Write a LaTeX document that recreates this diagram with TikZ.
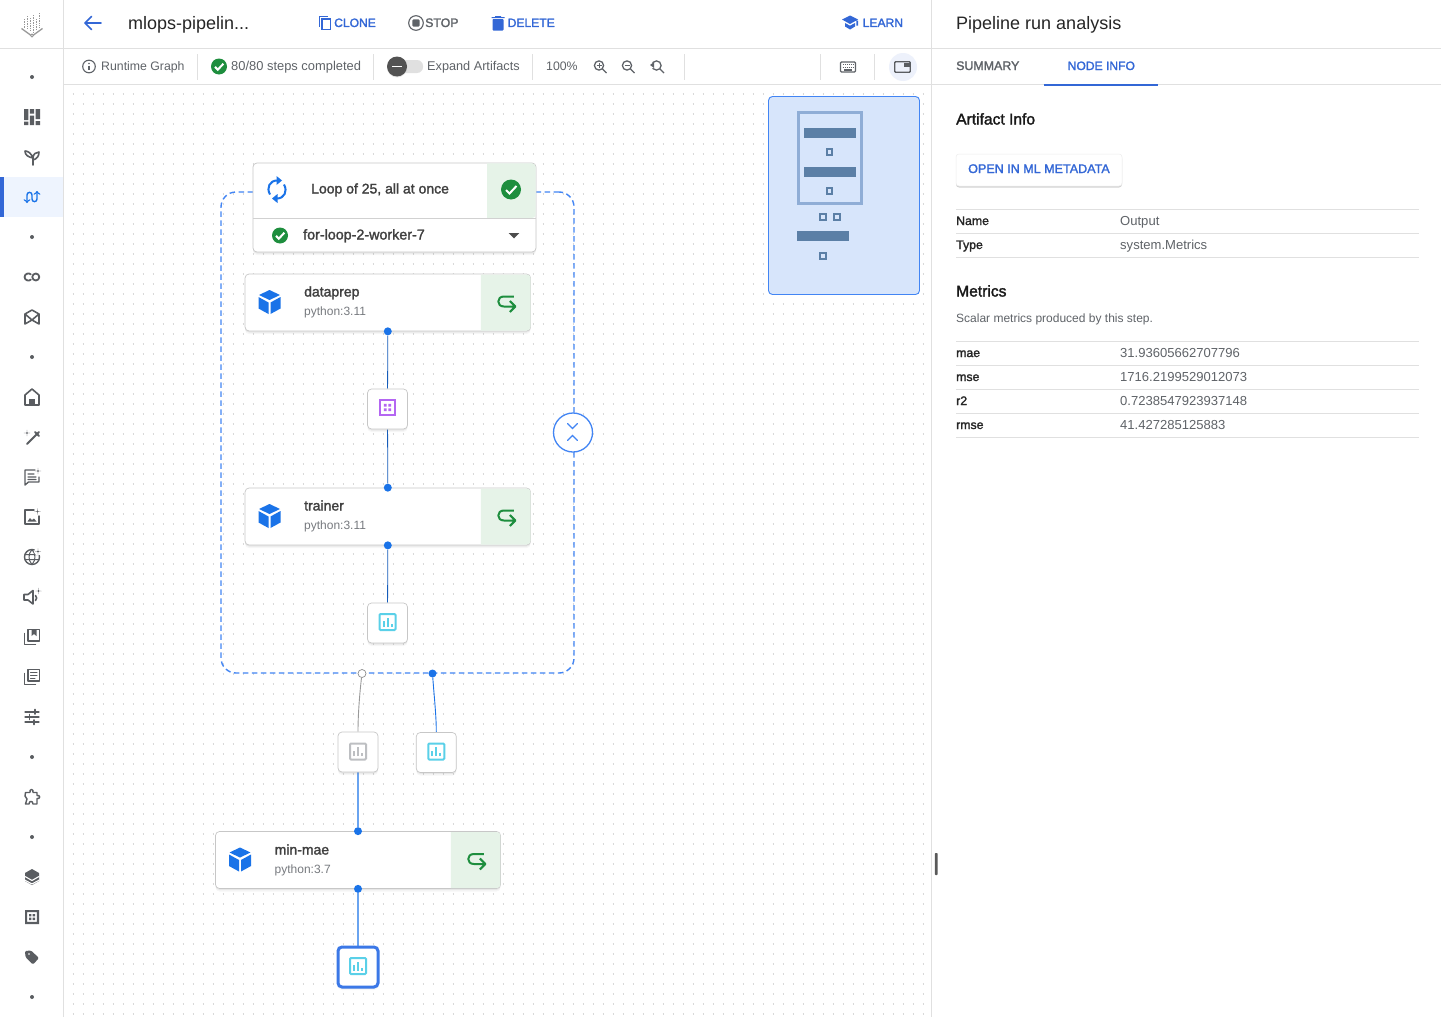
\documentclass[tikz,border=0pt]{standalone}
\usepackage{fontspec}
\usepackage{tikz}
\usepackage{xcolor}
\usetikzlibrary{shadows}
\setmainfont{Liberation Sans}
\newfontfamily\medfont[FakeBold=1.8]{Liberation Sans}
\newcommand\uifont[1]{\fontsize{#1}{#1}\selectfont}
\newcommand\sparkat[2]{\fill (#1,#2-3.2) .. controls (#1,#2) .. (#1+3.2,#2) .. controls (#1,#2) .. (#1,#2+3.2) .. controls (#1,#2) .. (#1-3.2,#2) .. controls (#1,#2) .. cycle;}
\pgfdeclarelayer{behind}
\pgfsetlayers{behind,main}
\definecolor{linkblue}{HTML}{3367D6}
\definecolor{flowblue}{HTML}{1A73E8}
\definecolor{groupblue}{HTML}{4285F4}
\definecolor{pickblue}{HTML}{3B78E7}
\definecolor{railgrey}{HTML}{5A5D61}
\definecolor{textgrey}{HTML}{5F6368}
\definecolor{rulegrey}{HTML}{E0E0E0}
\definecolor{cellgreen}{HTML}{E6F3E8}
\definecolor{okgreen}{HTML}{1E8E3E}
\definecolor{artcyan}{HTML}{5AD0E8}
\definecolor{artgrey}{HTML}{BDBFC2}
\definecolor{artpurple}{HTML}{B466F2}
\definecolor{mapfill}{HTML}{D7E5FB}
\definecolor{mapbar}{HTML}{5B7FA6}
\definecolor{mapframe}{HTML}{8FADD6}
\tikzset{
  uitext/.style={inner sep=0pt,anchor=west,text height=9pt,text depth=0pt,text=textgrey,font=\uifont{12.3}},
  headtext/.style={uitext,text=black!85,font=\uifont{18}},
  linktext/.style={uitext,text=linkblue,font=\medfont\uifont{12.1}},
  darktext/.style={uitext,text=black!85,font=\medfont\uifont{12.3}},
  valtext/.style={uitext,font=\uifont{13.05}},
  sectext/.style={uitext,text=black!90,font=\medfont\uifont{15.6}},
  steptext/.style={uitext,text=black!75,font=\medfont\uifont{14}},
  subtext/.style={uitext,text=textgrey!85,font=\uifont{12}},
  softshadow/.style={drop shadow={shadow xshift=0pt,shadow yshift=-3pt,opacity=.07},drop shadow={shadow xshift=0pt,shadow yshift=-1.5pt,opacity=.12}},
  stepbox/.style={rectangle,inner sep=0pt,rounded corners=4pt,draw=black!22,line width=.7pt,fill=white,minimum width=285.5pt,minimum height=57pt,softshadow},
  artbox/.style={stepbox,minimum width=40pt,minimum height=40pt},
  groupbox/.style={rectangle,inner sep=0pt,outer sep=0pt,draw=groupblue,line width=1.4pt,dash pattern=on 5.5pt off 3.5pt,rounded corners=15pt,minimum width=353pt,minimum height=481pt},
  portdot/.style={circle,inner sep=0pt,minimum size=8pt,fill=flowblue},
  sepline/.style={rulegrey,line width=1pt},
  rowline/.style={rulegrey,line width=.9pt},
  flowline/.style={flowblue!80!black,line width=.8pt},
  iconline/.style={line width=1.4pt,line cap=round,line join=round},
  railicon/.style={color=railgrey,iconline},
  mapbit/.style={draw=mapbar,line width=1.6pt,fill=mapfill,minimum size=5.5pt,inner sep=0pt},
  mapbarbox/.style={fill=mapbar,inner sep=0pt,minimum width=52pt,minimum height=10pt},
  cubeicon/.pic={\fill[flowblue] (0,-12) -- (10.5,-7) -- (0,-2) -- (-10.5,-7) -- cycle (-11,-5) -- (-1,.5) -- (-1,12) -- (-11,6.5) -- cycle (11,-5) -- (1,.5) -- (1,12) -- (11,6.5) -- cycle;},
  retrycell/.pic={\fill[cellgreen] (-50,-28) [rounded corners=3.5pt] -- (-.4,-28) -- (-.4,28) [sharp corners] -- (-50,28) -- cycle;
    \draw[okgreen,line width=2pt,line join=round] (-17,-6) -- (-27,-6) .. controls (-34.5,-6) and (-34.5,4) .. (-27,4) -- (-16,4) (-21,-1.5) -- (-15.5,4) -- (-21,9.5);},
  checkicon/.pic={\fill[okgreen] (0,0) circle (10);\draw[white,line width=2pt] (-5,.5) -- (-1.5,4) -- (5.5,-3.5);},
  barsicon/.pic={\draw[line width=2pt,rounded corners=1pt] (-8,-8) rectangle (8,8);\draw[line width=2pt] (-4,4.5) -- (-4,-1) (0,4.5) -- (0,-4.5) (4,4.5) -- (4,1.5);},
  gridicon/.pic={\draw[line width=2.8pt] (-7.5,-7.5) rectangle (7.5,7.5);\fill (-3.6,-3.6) rectangle (-.9,-.9) (.9,-3.6) rectangle (3.6,-.9) (-3.6,.9) rectangle (-.9,3.6) (.9,.9) rectangle (3.6,3.6);},
  dashicon/.pic={\fill (-8,-8) rectangle (-3.7,3) (-8,4.5) rectangle (-3.7,8) (-2.2,-8) rectangle (2.2,-3.5) (-2.2,-1.5) rectangle (2.2,8) (3.7,-8) rectangle (8,2) (3.7,4) rectangle (8,8);},
  sprouticon/.pic={\draw[line width=1.6pt] (1,8) -- (1,1) .. controls (-1,-4) and (-4,-6) .. (-7,-6) .. controls (-7,-2) and (-4,0) .. (1,1) .. controls (1,-3) and (4,-5) .. (7,-5) .. controls (7,-1) and (5,2) .. (1,3);},
  flowicon/.pic={\draw[flowblue,<->] (-5,6) -- (-5,-2) .. controls (-5,-5.5) and (0,-5.5) .. (0,-2) -- (0,2) .. controls (0,5.5) and (5,5.5) .. (5,2) -- (5,-6);},
  colabicon/.pic={\draw[line width=1.8pt] (-1.2,-2.6) .. controls (-3,-4.5) and (-7.4,-3.5) .. (-7.4,0) .. controls (-7.4,3.5) and (-3,4.5) .. (-1.2,2.6);\draw[line width=1.8pt] (3.8,0) circle (3.5);},
  modelicon/.pic={\draw[line width=1.6pt] (-7,-3) -- (0,-7) -- (7,-3) -- (7,7) -- (0,3) -- (-7,7) -- cycle (-7,-3) -- (0,3) -- (7,-3);},
  homeicon/.pic={\draw[line width=1.6pt] (-7,8) -- (-7,-2) -- (0,-8) -- (7,-2) -- (7,8) -- cycle;\fill (-3,2) rectangle (3,8);},
  wandicon/.pic={\draw[line width=2pt] (-5,7) -- (5,-3) -- (7,-5) (3,-5) -- (7,-1);\sparkat{-5}{-4}},
  chaticon/.pic={\draw (3,-7) -- (-7,-7) -- (-7,8) -- (-3.5,5) -- (7,5) -- (7,0) (-4,-3) -- (2,-3) (-4,0) -- (4,0) (-4,2.5) -- (4,2.5);\sparkat{6}{-6}},
  imageicon/.pic={\draw (2,-7) -- (-7,-7) -- (-7,7) -- (7,7) -- (7,-1);\fill (-4.5,4.5) -- (-2,1) -- (0,3) -- (2,1.5) -- (4.5,4.5) -- cycle;\sparkat{5.5}{-5.5}},
  globeicon/.pic={\draw (0,0) circle (7.5);\draw[line width=1pt] (0,-7.5) .. controls (-4,-3) and (-4,3) .. (0,7.5) .. controls (4,3) and (4,-3) .. (0,-7.5) (-7,-2.5) -- (7,-2.5) (-7,2.5) -- (7,2.5);\fill[white] (6,-5.5) circle (4);\sparkat{6}{-5.5}},
  speakericon/.pic={\draw[line width=1.6pt] (-8,-2.5) -- (-4,-2.5) -- (1,-6.5) -- (1,7) -- (-4,3) -- (-8,3) -- cycle (3.5,-1.5) .. controls (5,0) and (5,2) .. (3.5,3.5);\sparkat{6.5}{-6}},
  shelficon/.pic={\draw (-7.5,-3.5) -- (-7.5,7.5) -- (3.5,7.5) (-4,-7.5) rectangle (7.5,4);\fill (-.5,-7.5) -- (4.5,-7.5) -- (4.5,-1) -- (2,-3) -- (-.5,-1) -- cycle;},
  listicon/.pic={\draw (-7.5,-3.5) -- (-7.5,7.5) -- (3.5,7.5) (-4,-7.5) rectangle (7.5,4);\draw[line width=1pt] (-1.5,-4.5) -- (5,-4.5) (-1.5,-1.8) -- (5,-1.8) (-1.5,1) -- (3,1);},
  tuneicon/.pic={\draw[line width=1.2pt] (-7,-5) -- (7,-5) (-7,0) -- (7,0) (-7,5) -- (7,5);\draw[line width=1.7pt] (3,-7.5) -- (3,-3) (-2.5,-2.5) -- (-2.5,2.5) (2,3) -- (2,7.5);},
  puzzleicon/.pic={\draw[line width=1.4pt] (-6.5,-4.5) -- (-2,-4.5) .. controls (-3,-8.5) and (2,-8.5) .. (1,-4.5) -- (5,-4.5) -- (5,-1.5) .. controls (8.5,-2.5) and (8.5,2.5) .. (5,1.5) -- (5,7) -- (1,7) .. controls (1,3.5) and (-3,3.5) .. (-3,7) -- (-6.5,7) -- (-5,2) -- (-7,-1) -- cycle;},
  layersicon/.pic={\fill (0,-8) -- (7,-4) -- (7,4) -- (0,8) -- (-7,4) -- (-7,-4) -- cycle;\draw[white,line width=1.1pt] (-7,-.5) -- (0,3.5) -- (7,-.5) (-7,3.2) -- (0,7) -- (7,3.2);},
  frameicon/.pic={\fill[even odd rule] (-7,-7) rectangle (7,7) (-4.8,-4.8) rectangle (4.8,4.8);\fill (-3,-3) rectangle (-.6,-.6) (.6,-3) rectangle (3,-.6) (-3,.6) rectangle (-.6,3) (.6,.6) rectangle (3,3);},
  tagicon/.pic={\fill[even odd rule,rounded corners=1.2pt] (-7,-6) -- (-1,-6.5) -- (7,1) -- (1,7.5) -- (-6.5,0) -- cycle (-3,-3) circle (1.1);},
  logoicon/.pic={\draw[color=black!40,line width=1.6pt,dash pattern=on 1.4pt off 1pt] (-7.5,-5) -- (-7.5,4) (-4.5,-8) -- (-4.5,6) (-1.5,-6) -- (-1.5,8) (1.5,-9) -- (1.5,8) (4.5,-5) -- (4.5,6) (7.5,-11) -- (7.5,4);
    \draw[color=black!40,line width=1.3pt] (-10.5,4.5) -- (-1.5,11) (1.5,11) -- (10.5,4.5);\draw[color=black!40,line width=1pt] (0,11.5) circle (1.5);},
  syncicon/.pic={\draw[flowblue,line width=2pt] (-7,5) .. controls (-11,-2) and (-7,-9) .. (0,-9) (7,-5) .. controls (11,2) and (7,9) .. (0,9);\fill[flowblue] (-.5,-13.5) -- (5,-9) -- (-.5,-4.5) -- cycle (.5,13.5) -- (-5,9) -- (.5,4.5) -- cycle;},
  infoicon/.pic={\draw[line width=1.1pt] (0,0) circle (6.3);\draw[line width=1.3pt] (0,-.8) -- (0,3.4);\fill (0,-3) circle (.8);},
  lensicon/.pic={\draw[line width=1.3pt] (-1,-1) circle (4.6) (2.4,2.4) -- (6.5,6.5);},
  cloneicon/.pic={\draw[line width=1.3pt] (-5.5,3.5) -- (-5.5,-6.5) -- (3,-6.5);\draw[line width=1.7pt] (-3,-4) rectangle (5.5,6.5);},
  stopicon/.pic={\draw[line width=1.1pt] (0,0) circle (7.3);\fill[rounded corners=1pt] (-3.6,-3.6) rectangle (3.6,3.6);},
  binicon/.pic={\fill[rounded corners=.8pt] (-5.5,-4) rectangle (5.5,7.5);\fill (-6.5,-6) rectangle (6.5,-5) (-3,-7) rectangle (3,-5.8);},
  capicon/.pic={\fill (-8,-3) -- (0,-7) -- (8,-3) -- (0,1.5) -- cycle (-5,.5) -- (0,3.2) -- (5,.5) -- (5,4) -- (0,7) -- (-5,4) -- cycle (6.4,-2) rectangle (8,3);},
  keysicon/.pic={\draw[line width=1.1pt,rounded corners=1pt] (-7.5,-5) rectangle (7.5,5);\draw[line width=1.3pt,dash pattern=on 1pt off 1pt] (-5.5,-2.4) -- (6,-2.4) (-5.5,.2) -- (6,.2);\draw[line width=1.1pt] (-4,3) -- (4,3);},
  pipicon/.pic={\draw[line width=1.3pt,rounded corners=.8pt] (-7.7,-5.2) rectangle (7.7,5.2);\fill (1,-4.5) rectangle (7,-.5);}
}
\begin{document}
\begin{tikzpicture}[x=1pt,y=-1pt]
  \useasboundingbox (0,0) rectangle (1441,1017);
  % dotted canvas
  \begin{pgfonlayer}{behind}
    \fill[white] (0,0) rectangle (1441,1017);
    \foreach \y in {94,104,...,1014} \draw[black!15,line width=1.1pt,dash pattern=on 1.1pt off 8.9pt] (72.5,\y) -- (930,\y);
  \end{pgfonlayer}
  % frame of the page
  \fill[groupblue!9] (0,177) rectangle (64,217); \fill[linkblue] (0,177) rectangle (4,217);
  \draw[sepline] (0,48.5) -- (1441,48.5); \draw[sepline] (64,84.5) -- (1441,84.5); \draw[sepline] (63.5,0) -- (63.5,1017); \draw[sepline] (931.5,0) -- (931.5,1017);
  \draw[linkblue,line width=2pt] (1043.5,84.5) -- (1158,84.5);
  \fill[black!65,rounded corners=.8pt] (934.8,853) rectangle (937.6,875);
  % left rail
  \pic[color=black!40] at (32,24) {logoicon};
  \foreach \y in {77,237,357,757,837,997} \fill[railgrey] (32,\y) circle (2);
  \foreach \y/\icon in {117/dashicon,157/sprouticon,277/colabicon,317/modelicon,397/homeicon,437/wandicon,477/chaticon,517/imageicon,557/globeicon,597/speakericon,637/shelficon,677/listicon,717/tuneicon,797/puzzleicon,877/layersicon,917/frameicon,957/tagicon}
    \pic[railicon] at (32,\y) {\icon};
  \pic[iconline] at (32,197) {flowicon};
  % top bars
  \draw[linkblue,line width=1.7pt,line cap=round,line join=round] (101,23) -- (85,23) (91.5,16.5) -- (85,23) -- (91.5,29.5);
  \node[headtext] (runtitle) at (128,24.5) {mlops-pipelin...};
  \pic[color=linkblue] at (325,23) {cloneicon}; \node[linktext] (clonetext) at (334,22.5) {CLONE};
  \pic[color=textgrey] at (416,23) {stopicon}; \node[uitext,font=\medfont\uifont{12.3}] (stoptext) at (425,22.5) {STOP};
  \pic[color=linkblue] at (498,23) {binicon}; \node[linktext] (deletetext) at (507.5,22.5) {DELETE};
  \pic[color=linkblue] at (850,22.5) {capicon}; \node[linktext] (learntext) at (862.5,22.5) {LEARN};
  \pic[color=textgrey] at (89,66.5) {infoicon}; \node[uitext] (graphtext) at (101,66) {Runtime Graph};
  \pic[scale=.8] at (219,66.5) {checkicon}; \node[uitext,font=\uifont{12.9}] (stepstext) at (231,66) {80/80 steps completed};
  \foreach \x in {197,373,532,684,820,874} \draw[rulegrey,line width=.9pt] (\x.5,54) -- (\x.5,80);
  \fill[black!12,rounded corners=6pt] (388,60) rectangle (423,73);
  \fill[black!68,drop shadow={shadow xshift=0pt,shadow yshift=-1pt,opacity=.2}] (397,66.5) circle (10);
  \draw[white,line width=1.4pt] (392,66.5) -- (402,66.5);
  \node[uitext,font=\uifont{12.7}] (expandtext) at (427,66) {Expand Artifacts};
  \node[uitext] (zoomtext) at (546,66) {100\%};
  \pic[color=textgrey] at (600,66.5) {lensicon}; \draw[textgrey,line width=1pt] (596.5,65.5) -- (601.5,65.5) (599,63) -- (599,68);
  \pic[color=textgrey] at (628,66.5) {lensicon}; \draw[textgrey,line width=1pt] (624.5,65.5) -- (629.5,65.5);
  \pic[color=textgrey] at (657.5,66.5) {lensicon}; \fill[white] (650,62.5) rectangle (653.5,68); \fill[textgrey] (650,65) -- (654,62) -- (654,68) -- cycle;
  \pic[color=textgrey] at (848,67) {keysicon};
  \fill[linkblue!9] (903,67) circle (14); \pic[color=railgrey] at (902.5,67) {pipicon};
  % pipeline graph
  \node[groupbox] (loopgroup) at (397.5,432.5) {};
  \node[stepbox,minimum width=283pt,minimum height=89pt] (loopbox) at (394.5,207.5) {};
  \fill[cellgreen] (487,163.4) [rounded corners=3.5pt] -- (535.6,163.4) -- (535.6,218) [sharp corners] -- (487,218) -- cycle;
  \draw[black!18,line width=1.2pt] (253,218.5) -- (536,218.5);
  \pic at (277,189.5) {syncicon};
  \node[steptext] (looptext) at (311,189) {Loop of 25, all at once};
  \pic at (511,189.5) {checkicon};
  \pic[scale=.8] at (280,235.5) {checkicon};
  \node[steptext,font=\medfont\uifont{14.3}] (workertext) at (303,235) {for-loop-2-worker-7};
  \fill[black!70] (508.7,233) -- (519.3,233) -- (514,238.5) -- cycle;
  \node[stepbox] (dataprep) at (387.8,302.5) {};
  \pic at (dataprep.east) {retrycell}; \pic at (269.5,302) {cubeicon};
  \node[steptext] (dataprepname) at (304,292) {dataprep}; \node[subtext] (dataprepimg) at (304,311) {python:3.11};
  \node[artbox] (execart) at (387.5,409) {}; \pic[color=artpurple] at (387.5,407.5) {gridicon};
  \node[stepbox] (trainer) at (387.8,516.5) {};
  \pic at (trainer.east) {retrycell}; \pic at (269.5,516) {cubeicon};
  \node[steptext] (trainername) at (304,506) {trainer}; \node[subtext] (trainerimg) at (304,525) {python:3.11};
  \node[artbox] (trainart) at (387.5,623) {}; \pic[color=artcyan] at (387.5,622) {barsicon};
  \node[artbox] (greyart) at (358,752) {}; \pic[color=artgrey] at (358,751.5) {barsicon};
  \node[artbox] (blueart) at (436.3,752.5) {}; \pic[color=artcyan] at (436.3,751.5) {barsicon};
  \node[stepbox,minimum width=285pt,minimum height=57pt] (minmae) at (358,860) {};
  \pic at (minmae.east) {retrycell}; \pic at (240,859.5) {cubeicon};
  \node[steptext] (minmaename) at (274.5,850) {min-mae}; \node[subtext] (minmaeimg) at (274.5,869) {python:3.7};
  \node[artbox,draw=pickblue,line width=3pt,minimum width=40pt,minimum height=40pt] (lastart) at (358,967) {}; \pic[color=artcyan] at (358,966) {barsicon};
  % ports and connectors
  \node[portdot] (dataprepout) at (dataprep.south) {}; \node[portdot] (trainerin) at (trainer.north) {}; \node[portdot] (trainerout) at (trainer.south) {};
  \node[portdot] (minmaein) at (minmae.north) {}; \node[portdot] (minmaeout) at (minmae.south) {};
  \node[portdot,draw=black!45,fill=white,line width=.7pt] (loopoutA) at (362,673.5) {}; \node[portdot] (loopoutB) at (432.5,673.5) {};
  \begin{pgfonlayer}{behind}
    \draw[flowline] (dataprepout) -- (execart); \draw[flowline] (execart) -- (trainerin); \draw[flowline] (trainerout) -- (trainart);
    \draw[black!40,line width=.9pt] (loopoutA) .. controls (359.5,695) and (358,715) .. (greyart.north);
    \draw[flowblue,line width=.9pt] (loopoutB) .. controls (434,695) and (436.3,715) .. (blueart.north);
    \draw[flowblue!65,line width=1.2pt] (greyart) -- (minmaein); \draw[flowblue!65,line width=1.2pt] (minmaeout) -- (lastart);
  \end{pgfonlayer}
  \node[circle,draw=groupblue,line width=1.3pt,fill=white,minimum size=39pt,inner sep=0pt] (collapse) at ([xshift=-1pt]loopgroup.east) {};
  \draw[groupblue,line width=1.3pt,line cap=round] (567.5,423.5) -- (572.5,428.5) -- (577.5,423.5) (567.5,440.5) -- (572.5,435.5) -- (577.5,440.5);
  % minimap
  \node[rectangle,rounded corners=4pt,draw=groupblue,line width=.9pt,fill=mapfill,minimum width=151pt,minimum height=198pt,inner sep=0pt] (minimap) at (844,195.5) {};
  \node[rectangle,draw=mapframe,line width=2.4pt,minimum width=63pt,minimum height=91pt,inner sep=0pt] (mapview) at (830,158) {};
  \node[mapbarbox] (mapbarA) at (830,132.5) {}; \node[mapbarbox] (mapbarB) at (830,172) {}; \node[mapbarbox] (mapbarC) at (823,236) {};
  \foreach \n/\x/\y in {A/829.5/152,B/829.5/191,C/823/217,D/837/217,E/823/256} \node[mapbit] (mapbit\n) at (\x,\y) {};
  % run analysis panel
  \node[headtext] (paneltitle) at (956,24.5) {Pipeline run analysis};
  \node[uitext,font=\medfont\uifont{12.4}] (summarytab) at (956,65.5) {SUMMARY}; \node[linktext] (nodetab) at (1067.5,65.5) {NODE INFO};
  \node[sectext] (artifacthead) at (956,120) {Artifact Info};
  \node[rectangle,rounded corners=3pt,fill=white,draw=black!7,line width=.5pt,minimum width=166pt,minimum height=32pt,inner sep=0pt,drop shadow={shadow xshift=0pt,shadow yshift=-1.5pt,opacity=.35}] (metadatabtn) at (1039,170) {};
  \node[linktext,font=\medfont\uifont{12.55}] (metadatatext) at (968,168.5) {OPEN IN ML METADATA};
  \foreach \y in {209.5,233.5,257.5,341.5,365.5,389.5,413.5,437.5} \draw[rowline] (956,\y) -- (1419,\y);
  \foreach \n/\y/\key/\val in {a/220.5/Name/Output,b/244.5/Type/system.Metrics,c/352.5/mae/31.93605662707796,d/376.5/mse/1716.2199529012073,e/400.5/r2/0.7238547923937148,f/424.5/rmse/41.427285125883}{
    \node[darktext] (key\n) at (956,\y) {\key}; \node[valtext] (val\n) at (1120,\y) {\val};}
  \node[sectext] (metricshead) at (956,292) {Metrics};
  \node[uitext,font=\uifont{12}] (metricsnote) at (956,318) {Scalar metrics produced by this step.};
\end{tikzpicture}
\end{document}
